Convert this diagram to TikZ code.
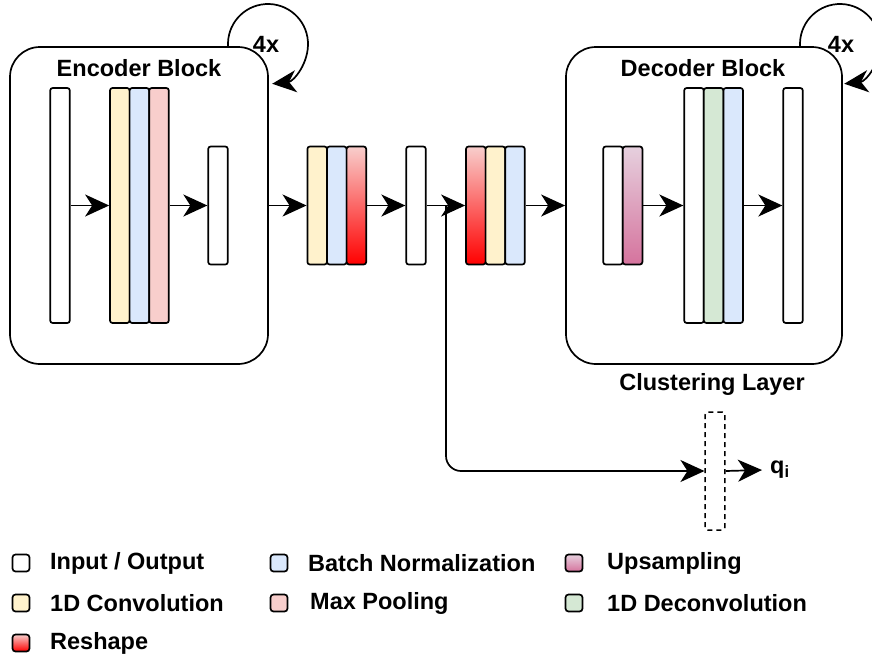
\documentclass[tikz,border=0pt]{standalone}
\usepackage{fontspec}
\setmainfont{Liberation Sans}
\usetikzlibrary{arrows.meta}

\definecolor{convc}{HTML}{FFF2CC}
\definecolor{bnc}{HTML}{DAE8FC}
\definecolor{mpc}{HTML}{F8CECC}
\definecolor{dcc}{HTML}{D5E8D4}
\definecolor{uptop}{HTML}{E6D0DE}
\definecolor{upbot}{HTML}{D5739D}
\definecolor{rstop}{HTML}{F8CECC}
\definecolor{rsbot}{HTML}{FF0000}

\tikzset{
  every node/.style={font=\fontsize{23.5}{28}\selectfont\bfseries},
  bar/.style={draw, line width=1.7pt, rounded corners=2.5pt, inner sep=0pt,
    minimum width=19.6pt},
  tall/.style={bar, minimum height=235pt},
  short/.style={bar, minimum height=118pt},
  io/.style={fill=white},
  conv/.style={fill=convc},
  bn/.style={fill=bnc},
  mp/.style={fill=mpc},
  dc/.style={fill=dcc},
  up/.style={top color=uptop, bottom color=upbot},
  rs/.style={top color=rstop, bottom color=rsbot},
  blockbox/.style={draw, line width=1.7pt, rounded corners=30pt, inner sep=0pt,
    minimum height=317pt},
  flow/.style={line width=1.7pt, -{Stealth[length=24pt, width=22pt, inset=7pt]}},
  legbox/.style={draw, line width=1.7pt, rounded corners=3pt, inner sep=0pt,
    minimum size=17pt},
  legtext/.style={anchor=west, inner sep=0pt},
}

\begin{document}
\begin{tikzpicture}[x=1pt, y=-1pt]
\useasboundingbox (0,0) rectangle (872,659);

% encoder and decoder blocks
\node[blockbox, minimum width=258pt] (enc) at (139,205.5) {};
\node[blockbox, minimum width=276pt] (dec) at (704,205.5) {};
\node (enct) at (139,68) {Encoder Block};
\node (dect) at (703,68) {Decoder Block};

% repetition loops (y axis points down, so angles run clockwise)
\draw[flow] (268,44) ++(176:40) arc[start angle=176, end angle=444, radius=40];
\node (encrep) at (266,44) {4x};
\draw[flow] (840,44) ++(176:40) arc[start angle=176, end angle=444, radius=40];
\node (decrep) at (841,44) {4x};

% encoder layers
\node[tall, io] (ein) at (60,205.5) {};
\node[tall, conv] (ecv) at (119.8,205.5) {};
\node[tall, bn] (ebn) at (139.4,205.5) {};
\node[tall, mp] (emp) at (159,205.5) {};
\node[short, io] (eout) at (218,205.5) {};

% bottleneck layers
\node[short, conv] (mcv) at (317.2,205.5) {};
\node[short, bn] (mbn) at (336.8,205.5) {};
\node[short, rs] (mrs) at (356.4,205.5) {};
\node[short, io] (mw) at (416,205.5) {};
\node[short, rs] (nrs) at (475.8,205.5) {};
\node[short, conv] (ncv) at (495.4,205.5) {};
\node[short, bn] (nbn) at (515,205.5) {};

% decoder layers
\node[short, io] (dw) at (613,205.5) {};
\node[short, up] (dup) at (632.6,205.5) {};
\node[tall, io] (din) at (694,205.5) {};
\node[tall, dc] (ddc) at (713.6,205.5) {};
\node[tall, bn] (dbn) at (733.2,205.5) {};
\node[tall, io] (dout) at (793,205.5) {};

% clustering layer
\node[bar, dashed, line width=1.5pt, minimum height=118pt, dash pattern=on 5pt off 4pt] (cl) at (715,471) {};
\node (clt) at (712,384) {Clustering Layer};
\node[anchor=west, inner sep=0pt] (q) at (770,470) {q\textsubscript{i}};

% connectors
\draw[flow] (ein) -- (ecv);
\draw[flow] (emp) -- (eout);
\draw[flow] (enc.east) -- (mcv.west);
\draw[flow] (mrs) -- (mw);
\draw[flow] (mw) -- (nrs);
\draw[flow] (nbn.east) -- (dec.west);
\draw[flow] (dup) -- (din);
\draw[flow] (dbn) -- (dout);
\coordinate (br) at (446,205.5);
\draw[flow, rounded corners=15pt] (br) |- (cl.west);
\draw[flow] (cl.east) -- ([xshift=-8pt]q.west);

% legend
\node[legbox, io] (l1) at (21,563) {};
\node[legtext] (l1t) at (50,563) {Input / Output};
\node[legbox, bn] (l2) at (279,563) {};
\node[legtext] (l2t) at (308,563) {Batch Normalization};
\node[legbox, up] (l3) at (574,563) {};
\node[legtext] (l3t) at (607,563) {Upsampling};
\node[legbox, conv] (l4) at (21,603) {};
\node[legtext] (l4t) at (50,603) {1D Convolution};
\node[legbox, mp] (l5) at (279,603) {};
\node[legtext] (l5t) at (310,603) {Max Pooling};
\node[legbox, dc] (l6) at (574,603) {};
\node[legtext] (l6t) at (607,603) {1D Deconvolution};
\node[legbox, rs] (l7) at (21,643) {};
\node[legtext] (l7t) at (50,643) {Reshape};
\end{tikzpicture}
\end{document}
